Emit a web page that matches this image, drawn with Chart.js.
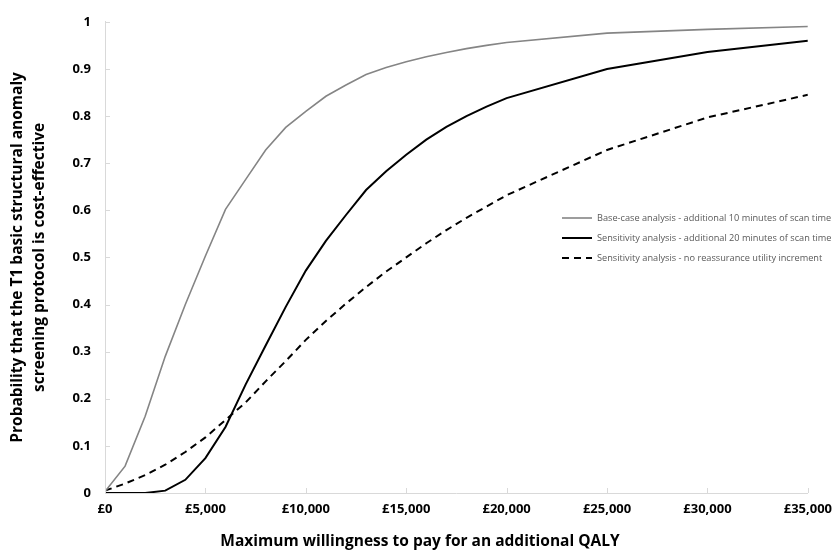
<!DOCTYPE html>
<html>
<head>
<meta charset="utf-8">
<script src="https://cdn.jsdelivr.net/npm/chart.js@4.4.1/dist/chart.umd.min.js"></script>
<style>
html, body { margin: 0; padding: 0; background: #fff; }
#wrap { width: 840px; height: 557px; }
</style>
</head>
<body>
<div id="wrap"><canvas id="ceac"></canvas></div>
<script>
// willingness to pay (£) and probability of cost-effectiveness
var wtp = [0, 1000, 2000, 3000, 4000, 5000, 6000, 7000, 8000, 9000, 10000,
    11000, 12000, 13000, 14000, 15000, 16000, 17000, 18000, 19000, 20000,
    25000, 30000, 35000];
var baseCase = [0.003, 0.057, 0.163, 0.29, 0.40, 0.503, 0.602, 0.665, 0.728, 0.776, 0.81,
    0.842, 0.866, 0.888, 0.903, 0.915, 0.926, 0.935, 0.943, 0.95, 0.956,
    0.976, 0.984, 0.99];
var sens20 = [0, 0, 0, 0.005, 0.028, 0.074, 0.14, 0.23, 0.313, 0.395, 0.472,
    0.535, 0.59, 0.643, 0.683, 0.718, 0.75, 0.777, 0.80, 0.82, 0.838,
    0.90, 0.936, 0.96];
var noReassurance = [0.005, 0.02, 0.038, 0.06, 0.087, 0.118, 0.155, 0.192, 0.237, 0.28, 0.325,
    0.365, 0.402, 0.437, 0.47, 0.5, 0.53, 0.558, 0.584, 0.608, 0.632,
    0.728, 0.797, 0.845];

var seriesNames = [
    'Base-case analysis - additional 10 minutes of scan time',
    'Sensitivity analysis - additional 20 minutes of scan time',
    'Sensitivity analysis - no reassurance utility increment'
];
var xTickLabels = ['£0', '£5,000', '£10,000', '£15,000', '£20,000', '£25,000', '£30,000', '£35,000'];
var yTickLabels = ['0', '0.1', '0.2', '0.3', '0.4', '0.5', '0.6', '0.7', '0.8', '0.9', '1'];

function toPoints(values) {
    return values.map((v, i) => ({ x: wtp[i], y: v }));
}

// small tick marks pointing into the plot, plus the legend inside the plot
var insideMarks = {
    id: 'insideMarks',
    afterDraw: function (chart) {
        var c = chart.ctx, area = chart.chartArea;
        var xs = chart.scales.x, ys = chart.scales.y;
        c.save();
        c.strokeStyle = '#d9d9d9';
        c.lineWidth = 1;
        c.beginPath();
        xs.ticks.forEach(t => {
            var px = Math.round(xs.getPixelForValue(t.value)) + 0.5;
            c.moveTo(px, area.bottom);
            c.lineTo(px, area.bottom - 5);
        });
        ys.ticks.forEach(t => {
            var py = Math.round(ys.getPixelForValue(t.value)) + 0.5;
            c.moveTo(area.left, py);
            c.lineTo(area.left + 5, py);
        });
        c.stroke();

        c.font = '9.2px "Open Sans"';
        c.textBaseline = 'middle';
        c.fillStyle = '#595959';
        chart.data.datasets.forEach((ds, i) => {
            var y = 218 + i * 20;
            c.beginPath();
            c.strokeStyle = ds.borderColor;
            c.lineWidth = ds.borderWidth;
            c.setLineDash(ds.borderDash || []);
            c.moveTo(562, y);
            c.lineTo(592, y);
            c.stroke();
            c.setLineDash([]);
            c.fillText(ds.label, 597, y);
        });
        c.restore();
    }
};

var ctx = document.getElementById('ceac').getContext('2d');
var ceacChart = new Chart(ctx, {
    type: 'line',
    data: {
        datasets: [{
            label: seriesNames[0],
            data: toPoints(baseCase),
            borderColor: '#858585',
            borderWidth: 1.6
        },
        {
            label: seriesNames[1],
            data: toPoints(sens20),
            borderColor: '#000000',
            borderWidth: 2
        },
        {
            label: seriesNames[2],
            data: toPoints(noReassurance),
            borderColor: '#000000',
            borderWidth: 2,
            borderDash: [7, 5]
        }]
    },
    options: {
        responsive: true,
        maintainAspectRatio: false,
        animation: false,
        elements: {
            point: { radius: 0 },
            line: { tension: 0 }
        },
        layout: {
            padding: { top: 20, right: 0, left: 0, bottom: 0 }
        },
        plugins: {
            legend: { display: false },
            tooltip: { enabled: false },
            // x-axis title is centred on the whole figure, so use the chart title box
            title: {
                display: true,
                position: 'bottom',
                fullSize: true,
                text: 'Maximum willingness to pay for an additional QALY',
                color: '#000',
                padding: { top: 0, bottom: 6 },
                font: { family: '"Open Sans"', size: 15.5, weight: 'bold', lineHeight: 1.2 }
            }
        },
        scales: {
            x: {
                type: 'linear',
                min: 0,
                max: 35000,
                afterFit: function (scale) { scale.height = 39.4; },
                grid: { display: false, drawTicks: false },
                border: { display: true, color: '#d9d9d9', width: 1 },
                ticks: {
                    stepSize: 5000,
                    padding: 8,
                    color: '#000',
                    font: { family: '"Open Sans"', size: 13, weight: 'bold' },
                    callback: function (value, index) { return xTickLabels[index]; }
                }
            },
            y: {
                min: 0,
                max: 1,
                afterFit: function (scale) { scale.width = 105; },
                grid: { display: false, drawTicks: false },
                border: { display: true, color: '#d9d9d9', width: 1 },
                ticks: {
                    stepSize: 0.1,
                    padding: 14,
                    color: '#000',
                    font: { family: '"Open Sans"', size: 13, weight: 'bold' },
                    callback: function (value, index) { return yTickLabels[index]; }
                },
                title: {
                    display: true,
                    text: ['Probability that the T1 basic structural anomaly', 'screening protocol is cost-effective'],
                    color: '#000',
                    padding: { top: 7, bottom: 0 },
                    font: { family: '"Open Sans"', size: 15.5, weight: 'bold', lineHeight: 1.42 }
                }
            },
            // empty right-hand margin so the plot ends at the same place as the original
            rightGap: {
                position: 'right',
                afterFit: function (scale) { scale.width = 28; },
                grid: { display: false, drawTicks: false },
                border: { display: false },
                ticks: { display: false }
            }
        }
    },
    plugins: [insideMarks]
});
</script>
</body>
</html>
